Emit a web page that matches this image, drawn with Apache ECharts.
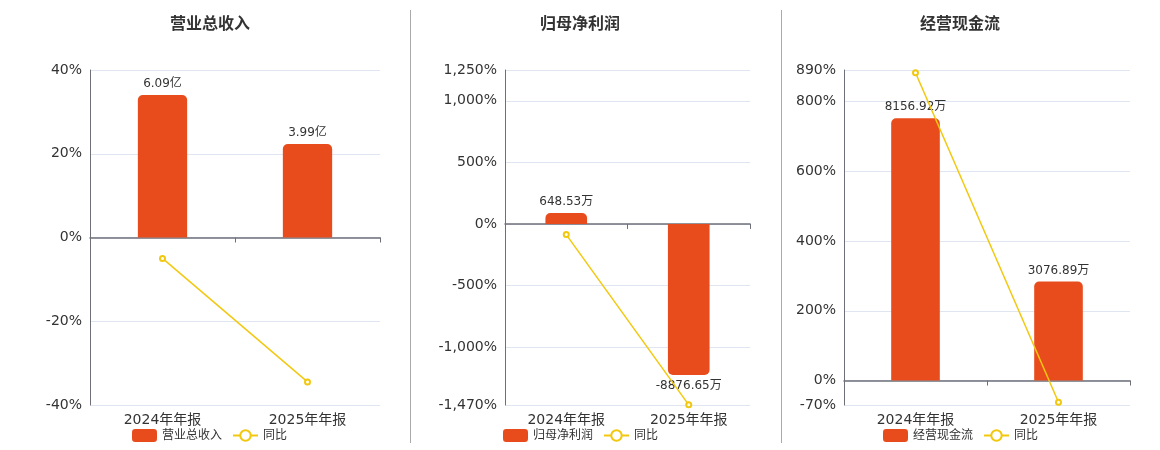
<!DOCTYPE html>
<html>
	<head>
		<meta charset="utf-8">
		<script src="https://cdn.jsdelivr.net/npm/echarts@6/dist/echarts.min.js"></script>
		<title></title>
		<style>
			html, body { margin: 0; padding: 0; background: #fff; }
		</style>
	</head>
	<body>
		<div id="main" style="width: 1160px;height:450px;"></div>
		<script type="text/javascript">
			// 数据
			var categories = ['2024年年报', '2025年年报'];
			var titles = ['营业总收入', '归母净利润', '经营现金流'];
			var units = ['亿', '万', '万'];

			var revenue = [6.09, 3.99];          // 亿
			var revenueYoy = [-5.0, -34.48];     // %
			var profit = [648.53, -8876.65];     // 万
			var profitYoy = [-86.6, -1468.7];    // %
			var cashflow = [8156.92, 3076.89];   // 万
			var cashflowYoy = [882, -62.28];     // %

			// 百分比轴刻度
			var pctTicks = [
				[-40, -20, 0, 20, 40],
				[-1470, -1000, -500, 0, 500, 1000, 1250],
				[-70, 0, 200, 400, 600, 800, 890]
			];
			// 柱状轴范围（与百分比轴零点对齐）
			var barRange = [
				[-7.155, 7.155],
				[-10634, 9043],
				[-759.5, 9657]
			];

			var barValues = [revenue, profit, cashflow];
			var yoyValues = [revenueYoy, profitYoy, cashflowYoy];

			var grids = [
				{ left: 90, top: 70, width: 290, height: 335 },
				{ left: 505, top: 70, width: 245, height: 335 },
				{ left: 844, top: 70, width: 286, height: 335 }
			];
			var centers = [205, 575, 955];
			var legendLeft = [127, 498, 878];

			var barColor = '#E84C1D';
			var lineColor = '#F2C80F';

			var myChart = echarts.init(document.getElementById('main'));

			var option = {
				animation: false,
				textStyle: { fontFamily: 'DejaVu Sans, Noto Sans CJK SC, sans-serif' },
				title: [],
				legend: [],
				grid: grids,
				xAxis: [],
				yAxis: [],
				series: [],
				graphic: [
					{ type: 'line', shape: { x1: 410.5, y1: 10, x2: 410.5, y2: 443 }, style: { stroke: '#aaa', lineWidth: 1 } },
					{ type: 'line', shape: { x1: 781.5, y1: 10, x2: 781.5, y2: 443 }, style: { stroke: '#aaa', lineWidth: 1 } }
				]
			};

			for (var i = 0; i < 3; i++) {
				var ticks = pctTicks[i];
				option.title.push({
					text: titles[i],
					left: centers[i],
					textAlign: 'center',
					top: 12,
					textStyle: { fontSize: 16, fontWeight: 'bold', color: '#333' }
				});
				option.legend.push({
					left: legendLeft[i],
					top: 424,
					itemWidth: 25,
					itemHeight: 13,
					itemGap: 10,
					textStyle: { fontSize: 12, color: '#333' },
					data: [titles[i], '同比']
				});
				// 底部标签轴
				option.xAxis.push({
					type: 'category',
					gridIndex: i,
					data: categories,
					axisLine: { show: false, onZero: false },
					axisTick: { show: false },
					axisLabel: { fontSize: 14, color: '#333', margin: 8 }
				});
				// 零点轴线
				option.xAxis.push({
					type: 'category',
					gridIndex: i,
					data: categories,
					position: 'bottom',
					axisLine: { show: true, onZero: true, lineStyle: { color: '#6E7079', width: 1.5 } },
					axisTick: { show: true, lineStyle: { color: '#6E7079' } },
					axisLabel: { show: false }
				});
				option.yAxis.push({
					type: 'value',
					gridIndex: i,
					min: ticks[0],
					max: ticks[ticks.length - 1],
					axisLine: { show: true, lineStyle: { color: '#6E7079' } },
					axisTick: { show: false, customValues: ticks },
					axisLabel: {
						fontSize: 14,
						color: '#333',
						customValues: ticks,
						formatter: function (v) { return v.toLocaleString('en-US') + '%'; }
					},
					splitLine: { show: true, lineStyle: { color: '#E0E6F1' } }
				});
				option.yAxis.push({
					type: 'value',
					gridIndex: i,
					min: barRange[i][0],
					max: barRange[i][1],
					show: false,
					splitLine: { show: false }
				});
				(function (unit) {
					option.series.push({
						name: titles[i],
						type: 'bar',
						xAxisIndex: i * 2,
						yAxisIndex: i * 2 + 1,
						barWidth: '34%',
						itemStyle: { color: barColor },
						data: barValues[i].map(function (v) {
							return {
								value: v,
								itemStyle: { borderRadius: v >= 0 ? [5, 5, 0, 0] : [0, 0, 5, 5] },
								label: { position: v >= 0 ? 'top' : 'bottom' }
							};
						}),
						label: {
							show: true,
							fontSize: 12,
							color: '#333',
							formatter: function (p) { return p.value + unit; }
						}
					});
				})(units[i]);
				option.series.push({
					name: '同比',
					type: 'line',
					xAxisIndex: i * 2,
					yAxisIndex: i * 2,
					symbol: 'emptyCircle',
					symbolSize: 5,
					itemStyle: { color: lineColor },
					lineStyle: { color: lineColor, width: 1.5 },
					data: yoyValues[i]
				});
			}

			myChart.setOption(option);
		</script>
	</body>
</html>
